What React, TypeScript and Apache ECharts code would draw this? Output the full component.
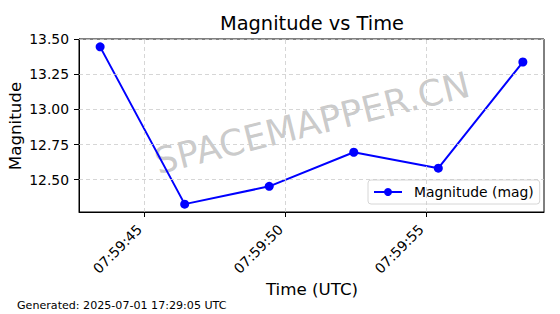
import React, { useEffect, useRef } from "react";
import * as echarts from "echarts";

// Time of each sample: seconds after 07:59:00 UTC
const timePrefix = "07:59:";
const timeSeconds = [43.43, 46.43, 49.43, 52.43, 55.43, 58.43];
const magnitudes = [13.446, 12.325, 12.452, 12.695, 12.581, 13.338];
const xTickSeconds = [45, 50, 55];
const yTickValues = [12.5, 12.75, 13.0, 13.25, 13.5];
const seriesName = "Magnitude (mag)";
const titleText = "Magnitude vs Time";
const xAxisTitle = "Time (UTC)";
const yAxisTitle = "Magnitude";
const footerText = "Generated: 2025-07-01 17:29:05 UTC";
const watermarkText = "SPACEMAPPER.CN";

const FONT = "DejaVu Sans";

export default function App() {
  const ref = useRef<HTMLDivElement>(null);

  useEffect(() => {
    if (!ref.current) return;
    const chart = echarts.init(ref.current, null, { renderer: "svg" });

    const points = timeSeconds.map((s, i) => [s, magnitudes[i]]);
    const gridLineData: any[] = [
      ...xTickSeconds.map((v) => ({ xAxis: v })),
      ...yTickValues.map((v) => ({ yAxis: v })),
    ];

    chart.setOption({
      animation: false,
      textStyle: { fontFamily: FONT },
      grid: {
        left: 79,
        right: 16,
        top: 39,
        bottom: 102,
        show: true,
        borderColor: "#000",
        borderWidth: 1,
        backgroundColor: "transparent",
      },
      xAxis: {
        type: "value",
        min: 42.68,
        max: 59.18,
        axisLine: { show: true, onZero: false, lineStyle: { color: "#000", width: 1 } },
        axisTick: {
          show: true,
          customValues: xTickSeconds,
          length: 5,
          lineStyle: { color: "#000", width: 1 },
        },
        axisLabel: {
          customValues: xTickSeconds,
          rotate: 45,
          margin: 10,
          padding: [0, 7, 0, 0],
          fontSize: 13.9,
          fontFamily: FONT,
          color: "#000",
          formatter: (v: number) => timePrefix + String(Math.round(v)).padStart(2, "0"),
        },
        splitLine: { show: false },
      },
      yAxis: {
        type: "value",
        min: 12.269,
        max: 13.502,
        axisLine: { show: true, onZero: false, lineStyle: { color: "#000", width: 1 } },
        axisTick: {
          show: true,
          customValues: yTickValues,
          length: 5,
          lineStyle: { color: "#000", width: 1 },
        },
        axisLabel: {
          customValues: yTickValues,
          margin: 10,
          fontSize: 13.9,
          fontFamily: FONT,
          color: "#000",
          formatter: (v: number) => v.toFixed(2),
        },
        splitLine: { show: false },
      },
      legend: {
        data: [{ name: seriesName }],
        left: 368,
        top: 180,
        padding: [5, 6, 5, 5],
        itemWidth: 28,
        itemHeight: 10,
        backgroundColor: "rgba(255,255,255,0.8)",
        borderColor: "#d6d6d6",
        borderWidth: 1,
        borderRadius: 3,
        textStyle: {
          fontSize: 13.9,
          fontFamily: FONT,
          color: "#000",
          padding: [0, 0, 0, 7],
        },
      },
      graphic: [
        {
          type: "text",
          z: 0,
          x: 312,
          y: 123,
          rotation: (14 * Math.PI) / 180,
          style: {
            text: watermarkText,
            font: `36px "${FONT}"`,
            fill: "rgba(128,128,128,0.42)",
            align: "center",
            verticalAlign: "middle",
          },
        },
        {
          type: "text",
          x: 312,
          y: 23,
          style: {
            text: titleText,
            font: `19.4px "${FONT}"`,
            fill: "#000",
            align: "center",
            verticalAlign: "middle",
          },
        },
        {
          type: "text",
          x: 312,
          y: 289,
          style: {
            text: xAxisTitle,
            font: `16.7px "${FONT}"`,
            fill: "#000",
            align: "center",
            verticalAlign: "middle",
          },
        },
        {
          type: "text",
          x: 15,
          y: 126,
          rotation: Math.PI / 2,
          style: {
            text: yAxisTitle,
            font: `16.7px "${FONT}"`,
            fill: "#000",
            align: "center",
            verticalAlign: "middle",
          },
        },
        {
          type: "text",
          x: 17,
          y: 305,
          style: {
            text: footerText,
            font: `11.1px "${FONT}"`,
            fill: "#000",
            align: "left",
            verticalAlign: "middle",
          },
        },
      ],
      series: [
        {
          name: "gridlines",
          type: "line",
          data: [],
          z: 1,
          silent: true,
          markLine: {
            silent: true,
            symbol: ["none", "none"],
            label: { show: false },
            emphasis: { disabled: true },
            lineStyle: { color: "#cccccc", type: [4, 3], width: 0.8 },
            data: gridLineData,
          },
        },
        {
          name: seriesName,
          type: "line",
          data: points,
          z: 3,
          color: "#0000ff",
          symbol: "circle",
          symbolSize: 9,
          showSymbol: true,
          lineStyle: { color: "#0000ff", width: 2 },
          itemStyle: { color: "#0000ff" },
        },
      ],
    });

    return () => chart.dispose();
  }, []);

  return (
    <div
      ref={ref}
      style={{ position: "fixed", left: 0, top: 0, width: 560, height: 314, background: "#fff" }}
    />
  );
}
